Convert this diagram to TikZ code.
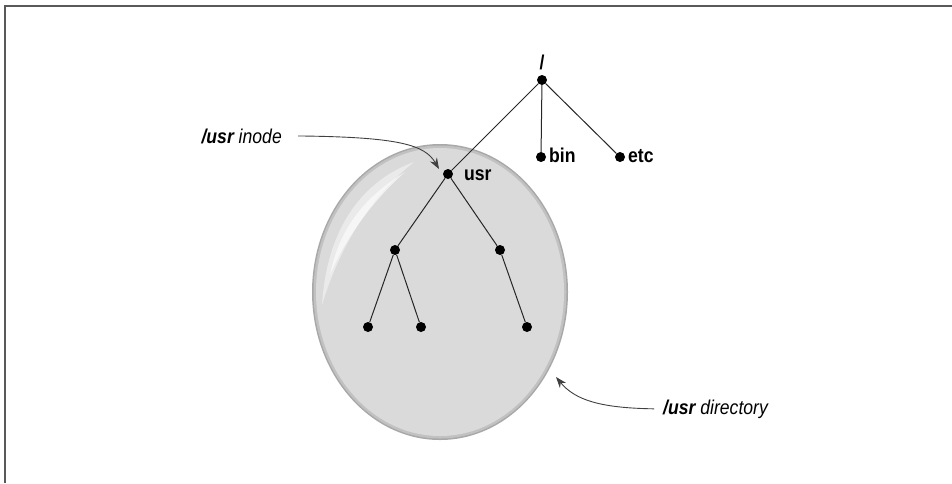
\documentclass[tikz,border=0pt]{standalone}
\usepackage{fontspec}
\setmainfont{Liberation Sans}[FakeStretch=0.88]
\usetikzlibrary{arrows.meta}
\definecolor{bubble}{HTML}{DADADA}
\definecolor{rim}{HTML}{A8A8A8}
\tikzset{
  dot/.style={circle,fill=black,inner sep=0pt,minimum size=10pt},
  edge/.style={draw=black!85,line width=1pt},
  lbl/.style={font=\bfseries\fontsize{20}{22}\selectfont,inner sep=0pt},
  callout/.style={font=\itshape\fontsize{20}{22}\selectfont,inner sep=0pt},
  pointer/.style={draw=black!75,line width=0.9pt,-{Stealth[length=11pt,width=8pt]}}
}
\begin{document}
\begin{tikzpicture}[x=1pt,y=-1pt]
\useasboundingbox (0,0) rectangle (952,483);
% frame (top and left only visible)
\draw[line width=1.4pt,black!65] (5,483) -- (5,6) -- (952,6);
% bubble
\fill[rim] (440,292) ellipse [x radius=128, y radius=148];
\fill[rim!50!bubble] (440,292) ellipse [x radius=126.5, y radius=146.5];
\fill[bubble] (440,292) ellipse [x radius=124, y radius=144];
% highlight
\fill[white,opacity=0.45] (322,305) .. controls (327,225) and (365,180) .. (414,162)
  .. controls (378,190) and (342,238) .. (322,305) -- cycle;
\fill[white,opacity=0.6] (330,275) .. controls (340,225) and (368,195) .. (405,172)
  .. controls (378,196) and (348,232) .. (330,275) -- cycle;
% nodes
\node[dot] (root) at (542,80) {};
\node[dot] (bin) at (541,157) {};
\node[dot] (etc) at (620,157) {};
\node[dot] (usr) at (448,174) {};
\node[dot] (l) at (395,250) {};
\node[dot] (r) at (500,250) {};
\node[dot] (ll) at (368,327) {};
\node[dot] (lr) at (421,327) {};
\node[dot] (rr) at (527,327) {};
% labels
\node[lbl,anchor=base] (rootlbl) at (542,69) {/};
\node[lbl,anchor=base west] (binlbl) at (549,162) {bin};
\node[lbl,anchor=base west] (etclbl) at (628,162) {etc};
\node[lbl,anchor=base west] (usrlbl) at (464,180) {usr};
% edges
\draw[edge] (root) -- (usr);
\draw[edge] (root) -- (bin);
\draw[edge] (root) -- (etc);
\draw[edge] (usr) -- (l);
\draw[edge] (usr) -- (r);
\draw[edge] (l) -- (ll);
\draw[edge] (l) -- (lr);
\draw[edge] (r) -- (rr);
% callouts
\node[callout,anchor=base east] (inode) at (282,143) {\textbf{/usr} inode};
\coordinate (inodeend) at (439,169);
\draw[pointer] ([xshift=16pt]inode.east) .. controls (400,137) and (425,145) .. (inodeend);
\node[callout,anchor=base west] (dir) at (663,414) {\textbf{/usr} directory};
\coordinate (dirend) at (556,377);
\draw[pointer] ([xshift=-9pt]dir.west) .. controls (600,408) and (575,400) .. (dirend);
\end{tikzpicture}
\end{document}
